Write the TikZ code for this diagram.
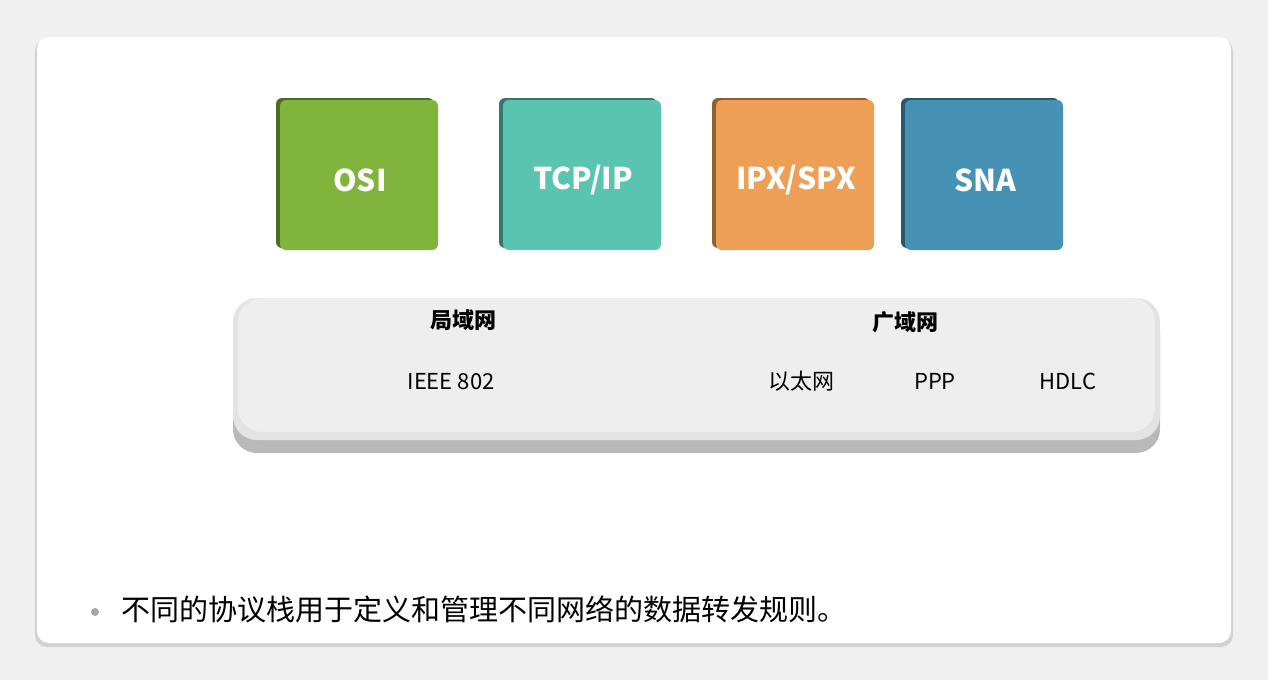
\documentclass[tikz,border=0pt]{standalone}
\usepackage{fontspec}
\setmainfont{Noto Sans CJK SC}
\definecolor{cosi}{HTML}{80B43C}
\definecolor{ctcp}{HTML}{5BC4B0}
\definecolor{cipx}{HTML}{EDA055}
\definecolor{csna}{HTML}{4592B4}
\tikzset{x=0.5pt,y=-0.5pt,
 stack/.style={fill=#1, rounded corners=3pt},
 lbl/.style={font=\fontsize{11}{13}\selectfont},
 blbl/.style={font=\fontsize{11}{13}\selectfont\bfseries}}
\begin{document}
\begin{tikzpicture}
\useasboundingbox (0,0) rectangle (1268,680);
\fill[gray!12] (0,0) rectangle (1268,680);
\fill[gray!35, rounded corners=6pt] (35,39) rectangle (1233,647);
\fill[white, rounded corners=6pt] (37,37) rectangle (1231,643);
% stacks
\foreach \x/\c/\t/\n in {280/cosi/OSI/osi,503/ctcp/TCP\slash IP/tcp,716/cipx/IPX\slash SPX/ipx,905/csna/SNA/sna}{
  \fill[\c!60!black, rounded corners=3pt] (\x-4,98) rectangle (\x+154,248);
  \path[stack=\c] (\x,100) rectangle (\x+158,250);
  \node[text=white, font=\fontsize{15}{18}\selectfont\bfseries] (\n) at (\x+80,180) {\t};
}
% bar
\fill[gray!55, rounded corners=12pt] (233,310) rectangle (1160,453);
\fill[gray!22, rounded corners=12pt] (233,298) rectangle (1160,440);
\fill[gray!13, rounded corners=12pt] (238,298) rectangle (1155,432);
\node[blbl] (lan) at (463,320) {局域网};
\node[blbl] (wan) at (905,322) {广域网};
\node[lbl] (ieee) at (451,382) {IEEE 802};
\node[lbl] (eth) at (801,381) {以太网};
\node[lbl] (ppp) at (935,381) {PPP};
\node[lbl] (hdlc) at (1068,381) {HDLC};
\fill[gray!70] (95,612) circle (4);
\node[anchor=west, font=\fontsize{14.5}{17}\selectfont] (txt) at (114,609) {不同的协议栈用于定义和管理不同网络的数据转发规则。};
\end{tikzpicture}
\end{document}
